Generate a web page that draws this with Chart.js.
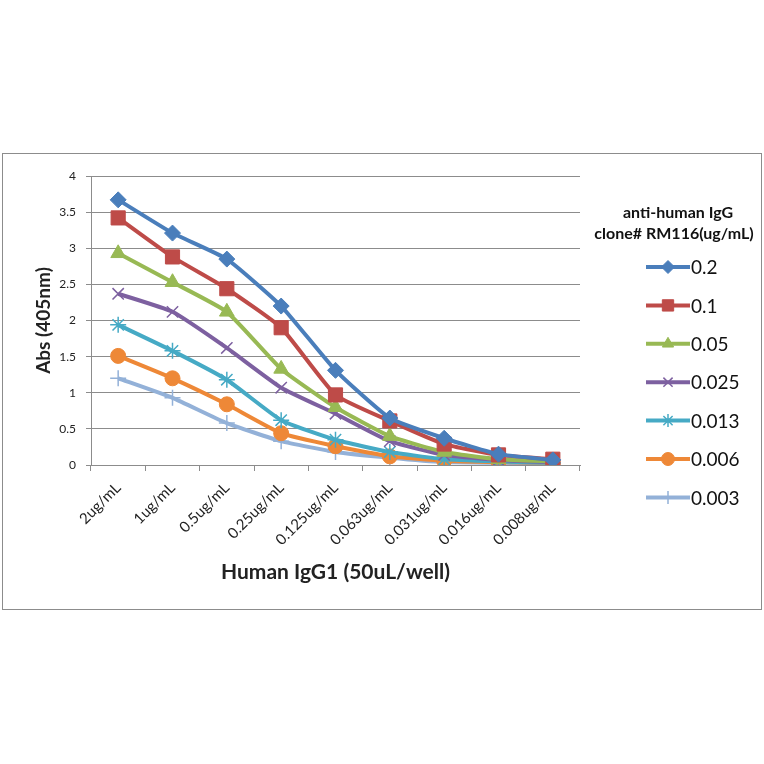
<!DOCTYPE html>
<html>
<head>
<meta charset="utf-8">
<script src="https://cdn.jsdelivr.net/npm/chart.js@4"></script>
<style>
  html, body { margin: 0; padding: 0; background: #fff; }
  #frame {
    position: absolute; left: 2px; top: 153px; width: 758px; height: 455px;
    border: 1px solid #8c8c8c;
  }
  #chart { position: absolute; left: 0; top: 0; }
</style>
</head>
<body>
<div id="frame"></div>
<canvas id="chart" width="764" height="764"></canvas>
<script>
const categories = ["2ug/mL", "1ug/mL", "0.5ug/mL", "0.25ug/mL", "0.125ug/mL",
  "0.063ug/mL", "0.031ug/mL", "0.016ug/mL", "0.008ug/mL"];

const seriesNames = ["0.2", "0.1", "0.05", "0.025", "0.013", "0.006", "0.003"];

const abs_0_2   = [3.67, 3.21, 2.85, 2.20, 1.31, 0.65, 0.37, 0.15, 0.07];
const abs_0_1   = [3.42, 2.88, 2.44, 1.90, 0.97, 0.61, 0.29, 0.14, 0.08];
const abs_0_05  = [2.93, 2.53, 2.12, 1.33, 0.80, 0.40, 0.18, 0.08, 0.05];
const abs_0_025 = [2.37, 2.12, 1.62, 1.07, 0.71, 0.33, 0.14, 0.07, 0.04];
const abs_0_013 = [1.94, 1.58, 1.18, 0.62, 0.35, 0.18, 0.08, 0.05, 0.03];
const abs_0_006 = [1.51, 1.20, 0.84, 0.44, 0.26, 0.12, 0.06, 0.04, 0.03];
const abs_0_003 = [1.20, 0.93, 0.58, 0.33, 0.18, 0.10, 0.04, 0.03, 0.02];

const yTicks = [0, 0.5, 1, 1.5, 2, 2.5, 3, 3.5, 4];

const seriesValues = [abs_0_2, abs_0_1, abs_0_05, abs_0_025, abs_0_013, abs_0_006, abs_0_003];
const colors = ["#4a7ebb", "#be4b48", "#98b954", "#7d60a0", "#46aac5", "#ee8837", "#93b1d8"];
const markers = ["rectRot", "rect", "triangle", "crossRot", "star", "circle", "cross"];
const markerSize = [8, 10, 8.5, 8, 8, 7.5, 8];
const thinMarker = { crossRot: true, star: true, cross: true };

const fontFamily = "Lato, 'Open Sans', sans-serif";

const datasets = seriesNames.map((name, i) => ({
  label: name,
  data: seriesValues[i],
  borderColor: colors[i],
  backgroundColor: colors[i],
  pointBackgroundColor: colors[i],
  pointBorderColor: colors[i],
  pointStyle: markers[i],
  pointRadius: markerSize[i],
  pointBorderWidth: thinMarker[markers[i]] ? 1.5 : 1,
  borderWidth: 4,
  tension: 0.15,
  fill: false,
}));

// legend drawn by hand: line with marker, like the spreadsheet legend
const legendPlugin = {
  id: "sideLegend",
  afterDraw(chart) {
    const ctx = chart.ctx;
    ctx.save();
    ctx.fillStyle = "#111";
    ctx.font = "bold 16px " + fontFamily;
    ctx.textAlign = "center";
    ctx.textBaseline = "middle";
    ctx.fillText("anti-human IgG", 678, 213);
    ctx.fillText("clone# RM116(ug/mL)", 674, 234);

    chart.data.datasets.forEach((ds, i) => {
      const y = 267 + i * 38.4;
      ctx.strokeStyle = ds.borderColor;
      ctx.lineWidth = 4;
      ctx.beginPath();
      ctx.moveTo(646, y);
      ctx.lineTo(690, y);
      ctx.stroke();
      ctx.fillStyle = ds.borderColor;
      ctx.strokeStyle = ds.borderColor;
      ctx.lineWidth = ds.pointBorderWidth;
      Chart.helpers.drawPoint(ctx, {
        pointStyle: ds.pointStyle,
        radius: ds.pointStyle === "rect" ? 8 : 6.5,
        borderWidth: ds.pointBorderWidth,
        rotation: 0,
      }, 668, y);
      ctx.fillStyle = "#111";
      ctx.font = "19px " + fontFamily;
      ctx.textAlign = "left";
      ctx.fillText(ds.label, 691, y + 1);
    });
    ctx.restore();
  }
};

new Chart(document.getElementById("chart").getContext("2d"), {
  type: "line",
  data: { labels: categories, datasets: datasets },
  plugins: [legendPlugin],
  options: {
    responsive: false,
    animation: false,
    layout: { padding: { left: 20, right: 184, top: 176, bottom: 166 } },
    plugins: { legend: { display: false }, tooltip: { enabled: false } },
    scales: {
      x: {
        offset: true,
        grid: { display: true, offset: true, drawOnChartArea: false, tickLength: 6, color: "#8c8c8c" },
        border: { color: "#8c8c8c", width: 1 },
        ticks: { color: "#222", font: { family: fontFamily, size: 15 }, maxRotation: 45, minRotation: 45, padding: 8 },
        title: { display: true, text: "Human IgG1 (50uL/well)", color: "#222",
          font: { family: fontFamily, size: 21, weight: "bold" }, padding: { top: 4, bottom: 13 } },
        afterFit(scale) { scale.height = 133; },
      },
      y: {
        min: 0, max: 4,
        afterBuildTicks(scale) { scale.ticks = yTicks.map(v => ({ value: v })); },
        grid: { color: "#8c8c8c", tickLength: 5 },
        border: { color: "#8c8c8c", width: 1 },
        ticks: { color: "#222", font: { family: fontFamily, size: 12 }, padding: 10,
          callback: (v) => String(v) },
        title: { display: true, text: "Abs (405nm)", color: "#222",
          font: { family: fontFamily, size: 19, weight: "bold" }, padding: { top: 12, bottom: 0 } },
        afterFit(scale) { scale.width = 71; },
      },
    },
  },
});
</script>
</body>
</html>
